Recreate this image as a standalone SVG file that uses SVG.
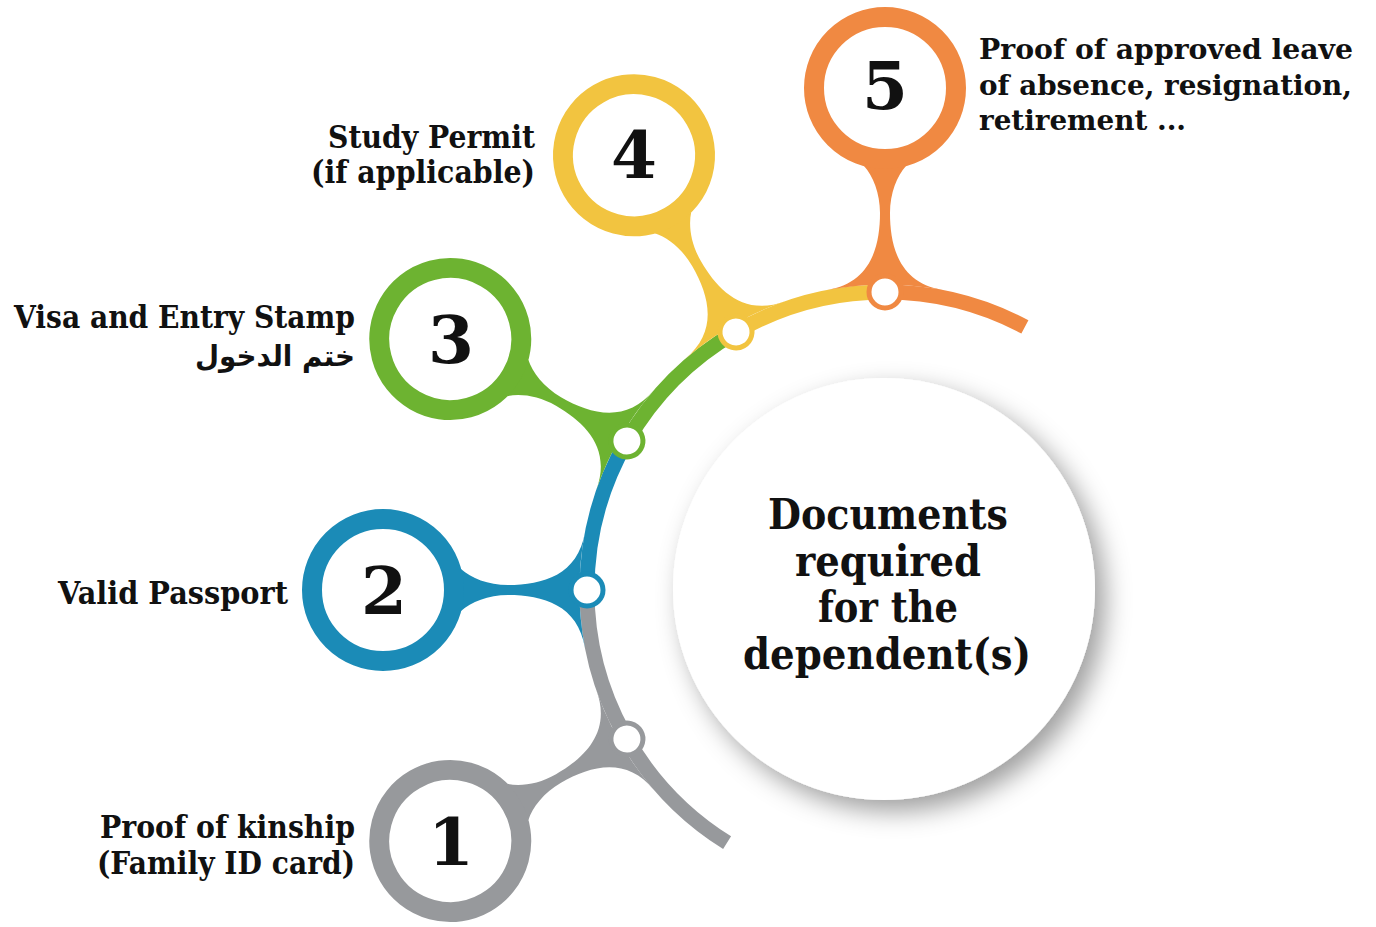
<svg xmlns="http://www.w3.org/2000/svg" xmlns:xlink="http://www.w3.org/1999/xlink" width="1376" height="927" viewBox="0 0 1376 927">
<defs>
<style>
.lbl{font-family:"DejaVu Serif","Liberation Serif",serif;font-weight:bold;font-size:31px;fill:#111}
.sm{font-size:28px}
.end{text-anchor:end}
.num{font-family:"DejaVu Serif","Liberation Serif",serif;font-weight:bold;font-size:66px;fill:#111;text-anchor:middle}
.ctr{font-family:"DejaVu Serif","Liberation Serif",serif;font-weight:bold;font-size:42px;fill:#111;text-anchor:middle}
.ar{font-family:"DejaVu Sans","Noto Sans",sans-serif;font-weight:bold;font-size:29px;fill:#111;text-anchor:end}
.arc{fill:none;stroke-width:15;stroke-linecap:butt}
.ring{fill:#fff;stroke-width:20}
.dot{fill:#fff;stroke-width:5}
</style>
<path id="neck" d="M78,-21 C88,-12 105,-5 125,-5 C160,-5 195,-15 202,-58 A305.5,305.5 0 0 0 202,58 C195,15 160,5 125,5 C105,5 88,12 78,21 Z"/>
<filter id="sh" x="-20%" y="-20%" width="150%" height="150%">
<feDropShadow dx="10" dy="11" stdDeviation="13" flood-color="#000" flood-opacity="0.38"/>
</filter>
</defs>
<rect width="1376" height="927" fill="#fff"/>

<g id="center">
<circle cx="884" cy="589" r="211" fill="#fff" filter="url(#sh)"/>
<text class="ctr" x="888" y="529" textLength="240" lengthAdjust="spacingAndGlyphs">Documents</text>
<text class="ctr" x="888" y="576" textLength="186" lengthAdjust="spacingAndGlyphs">required</text>
<text class="ctr" x="888" y="622" textLength="140" lengthAdjust="spacingAndGlyphs">for the</text>
<text class="ctr" x="887" y="669" textLength="288" lengthAdjust="spacingAndGlyphs">dependent(s)</text>
</g>

<g id="connectors">
<path class="arc" stroke="#97999c" d="M727.09,842.72 A298,298 0 0 1 587,590"/>
<path class="arc" stroke="#1b8bb7" d="M587,590 A298,298 0 0 1 626.93,441"/>
<path class="arc" stroke="#6db331" d="M626.93,441 A298,298 0 0 1 736,331.93"/>
<path class="arc" stroke="#f2c440" d="M736,331.93 A298,298 0 0 1 885,292"/>
<path class="arc" stroke="#f08942" d="M885,292 A298,298 0 0 1 1024.9,326.9"/>
</g>

<g id="node1">
<g transform="translate(885 590) rotate(-30) translate(-502 0)">
<use xlink:href="#neck" href="#neck" fill="#97999c"/>
<circle class="ring" r="71" stroke="#97999c"/>
<circle class="dot" cx="204" r="16" stroke="#97999c"/>
</g>
<text class="num" x="451" y="865">1</text>
<text class="lbl end" x="355" y="838" textLength="255" lengthAdjust="spacingAndGlyphs">Proof of kinship</text>
<text class="lbl end" x="355" y="874" textLength="258" lengthAdjust="spacingAndGlyphs">(Family ID card)</text>
</g>

<g id="node2">
<g transform="translate(885 590) translate(-502 0)">
<use xlink:href="#neck" href="#neck" fill="#1b8bb7"/>
<circle class="ring" r="71" stroke="#1b8bb7"/>
<circle class="dot" cx="204" r="16" stroke="#1b8bb7"/>
</g>
<text class="num" x="384" y="614">2</text>
<text class="lbl end" x="288" y="604" textLength="230" lengthAdjust="spacingAndGlyphs">Valid Passport</text>
</g>

<g id="node3">
<g transform="translate(885 590) rotate(30) translate(-502 0)">
<use xlink:href="#neck" href="#neck" fill="#6db331"/>
<circle class="ring" r="71" stroke="#6db331"/>
<circle class="dot" cx="204" r="16" stroke="#6db331"/>
</g>
<text class="num" x="451" y="363">3</text>
<text class="lbl end" x="355" y="328" textLength="341" lengthAdjust="spacingAndGlyphs">Visa and Entry Stamp</text>
<text class="ar" x="355" y="366" textLength="160" lengthAdjust="spacingAndGlyphs">ختم الدخول</text>
</g>

<g id="node4">
<g transform="translate(885 590) rotate(60) translate(-502 0)">
<use xlink:href="#neck" href="#neck" fill="#f2c440"/>
<circle class="ring" r="71" stroke="#f2c440"/>
<circle class="dot" cx="204" r="16" stroke="#f2c440"/>
</g>
<text class="num" x="634" y="178">4</text>
<text class="lbl end" x="535" y="148" textLength="207" lengthAdjust="spacingAndGlyphs">Study Permit</text>
<text class="lbl end" x="535" y="183" textLength="224" lengthAdjust="spacingAndGlyphs">(if applicable)</text>
</g>

<g id="node5">
<g transform="translate(885 590) rotate(90) translate(-502 0)">
<use xlink:href="#neck" href="#neck" fill="#f08942"/>
<circle class="ring" r="71" stroke="#f08942"/>
<circle class="dot" cx="204" r="16" stroke="#f08942"/>
</g>
<text class="num" x="885" y="109">5</text>
<text class="lbl sm" x="979" y="59" textLength="374" lengthAdjust="spacingAndGlyphs">Proof of approved leave</text>
<text class="lbl sm" x="979" y="95" textLength="373" lengthAdjust="spacingAndGlyphs">of absence, resignation,</text>
<text class="lbl sm" x="979" y="130" textLength="207" lengthAdjust="spacingAndGlyphs">retirement ...</text>
</g>
</svg>
